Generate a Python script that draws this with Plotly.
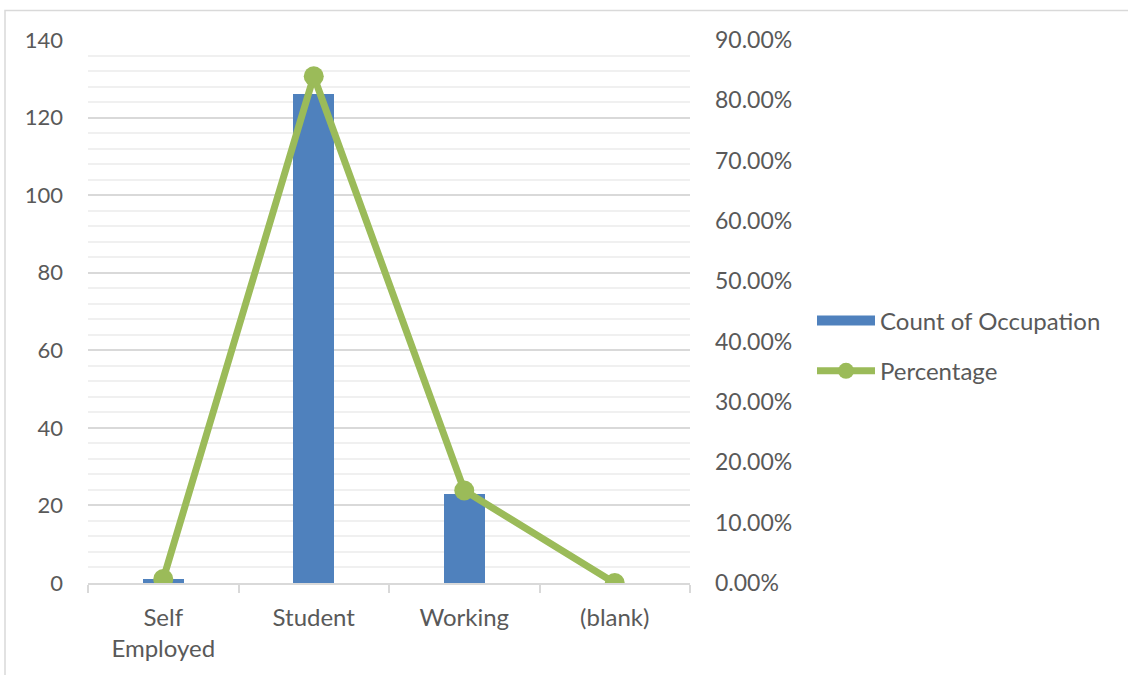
import plotly.graph_objects as go

categories = ["Self<br>Employed", "Student", "Working", "(blank)"]
counts = [1, 126, 23, 0]
percentages = [0.0067, 0.84, 0.1533, 0.0]

left_ticks = [0, 20, 40, 60, 80, 100, 120, 140]
right_ticks = [0, 0.1, 0.2, 0.3, 0.4, 0.5, 0.6, 0.7, 0.8, 0.9]

W, H = 1128, 675
ml, mr, mt, mb = 88, 438, 40, 92
pw = W - ml - mr
ph = H - mt - mb

FONT = "Lato"
TXT = "#595959"
BLUE = "#4F81BD"
GREEN = "#9BBB59"

fig = go.Figure()
fig.add_trace(go.Bar(
    x=categories, y=counts, name="Count of Occupation",
    marker=dict(color=BLUE, line=dict(width=0)),
    width=0.27, yaxis="y", showlegend=False,
))
# legend entry for bars, drawn as a wide rectangle like the original
fig.add_trace(go.Scatter(
    x=[None], y=[None], name="Count of Occupation", mode="lines",
    line=dict(color=BLUE, width=12), legendgroup="a", hoverinfo="skip",
))
fig.add_trace(go.Scatter(
    x=categories, y=percentages, name="Percentage",
    mode="lines+markers",
    line=dict(color=GREEN, width=7),
    marker=dict(color=GREEN, size=20),
    yaxis="y2", legendgroup="b",
))

# chart border
fig.add_shape(type="rect", xref="paper", yref="paper",
              x0=(5 - ml) / pw, x1=(1140 - ml) / pw,
              y0=(mt + ph - 690) / ph, y1=(mt + ph - 10.5) / ph,
              line=dict(color="#D9D9D9", width=1.5), layer="below")

fig.update_layout(
    width=W, height=H,
    margin=dict(l=ml, r=mr, t=mt, b=mb, autoexpand=False),
    paper_bgcolor="white", plot_bgcolor="white",
    font=dict(family=FONT, size=24, color=TXT),
    bargap=0,
    showlegend=True,
    legend=dict(x=(812 - ml) / pw, xanchor="left", y=(mt + ph - 346) / ph,
                yanchor="middle", font=dict(size=24, color=TXT),
                tracegroupgap=16, itemwidth=58, bgcolor="rgba(0,0,0,0)"),
    xaxis=dict(
        type="category", showgrid=False, showline=True, linecolor="#D9D9D9",
        linewidth=1.5, ticks="outside", tickson="boundaries", ticklen=8,
        tickcolor="#D9D9D9", tickwidth=1.5, tickfont=dict(size=24, color=TXT),
        ticklabelstandoff=12,
        range=[-0.5, 3.5], zeroline=False,
    ),
    yaxis=dict(
        range=[0, 140], tickvals=left_ticks, showgrid=True, gridcolor="#D9D9D9",
        gridwidth=1.5, zeroline=False, showline=False, ticks="",
        tickfont=dict(size=22, color=TXT), ticklabelstandoff=24,
        minor=dict(dtick=4, showgrid=True, gridcolor="#F0F0F0", gridwidth=1.5),
    ),
    yaxis2=dict(
        range=[0, 0.9], tickvals=right_ticks, tickformat=".2%", overlaying="y",
        side="right", showgrid=False, zeroline=False, showline=False, ticks="",
        tickfont=dict(size=23, color=TXT), ticklabelstandoff=24,
    ),
)

fig.write_html("out.html")
